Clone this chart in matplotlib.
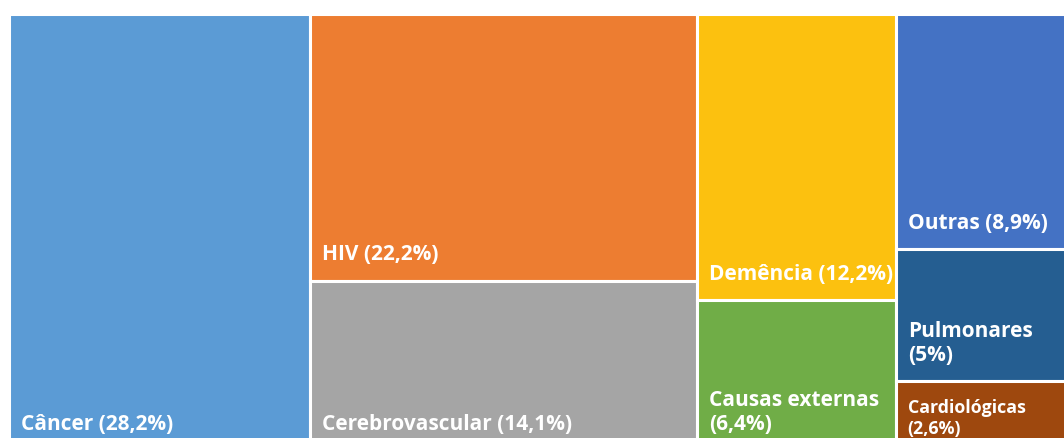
import matplotlib
matplotlib.use("Agg")
import matplotlib.pyplot as plt

# Data
labels = ["Câncer", "HIV", "Cerebrovascular", "Demência", "Causas externas",
          "Outras", "Pulmonares", "Cardiológicas"]
values = [28.2, 22.2, 14.1, 12.2, 6.4, 8.9, 5.0, 2.6]
value_text = ["28,2%", "22,2%", "14,1%", "12,2%", "6,4%", "8,9%", "5%", "2,6%"]
columns = [[0], [1, 2], [3, 4], [5, 6, 7]]
colors = ["#5B9BD5", "#ED7D31", "#A5A5A5", "#FCC10F", "#70AD47",
          "#4472C4", "#255E91", "#9E480E"]
two_line = {4, 6, 7}

W_PX, H_PX = 1064, 438
fig = plt.figure(figsize=(W_PX / 100, H_PX / 100), dpi=100)
fig.patch.set_facecolor("white")

# treemap area in pixels (it is cropped by the figure on right/bottom)
left_px, top_px, right_px, bottom_px = 9, 14, 1072, 450
ax = fig.add_axes([left_px / W_PX, 1 - bottom_px / H_PX,
                   (right_px - left_px) / W_PX, (bottom_px - top_px) / H_PX])
ax.set_xlim(0, 1)
ax.set_ylim(0, 1)
ax.axis("off")

total = sum(values)
x = 0.0
for col in columns:
    col_sum = sum(values[i] for i in col)
    w = col_sum / total
    y_top = 1.0
    for i in col:
        h = values[i] / col_sum
        y0 = y_top - h
        ax.bar(x, h, width=w, bottom=y0, align="edge", color=colors[i],
               edgecolor="white", linewidth=2.2, clip_on=False)
        if i in two_line:
            txt = f"{labels[i]}\n({value_text[i]})"
        else:
            txt = f"{labels[i]} ({value_text[i]})"
        fs = 12.8 if i == 7 else 15.0
        ax.annotate(txt, xy=(x, y0), xytext=(8.5, 11 if i != 7 else 9),
                    textcoords="offset points", ha="left", va="bottom",
                    color="white", fontsize=fs, fontweight="bold",
                    family="Open Sans", linespacing=1.2, annotation_clip=False)
        y_top = y0
    x += w

fig.savefig("out.png", dpi=100)
